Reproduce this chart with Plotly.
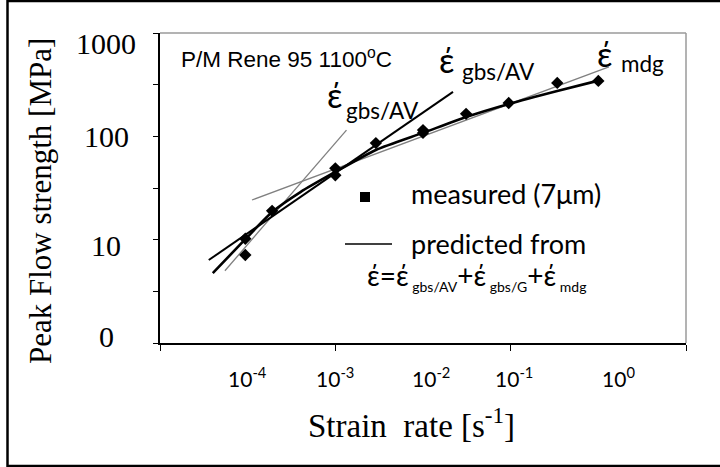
import plotly.graph_objects as go
import numpy as np

# Measured peak flow stress (MPa) against strain rate (1/s)
measured_rate = [9.4e-5, 9.4e-5, 1.9e-4, 1.0e-3, 1.0e-3, 2.9e-3, 1.0e-2, 1.0e-2, 3.1e-2, 9.5e-2, 0.34, 1.0]
measured_stress = [10.2, 7.1, 19, 49, 42, 86, 115, 108, 165, 210, 329, 344]

# Predicted curve (sum of the three mechanisms)
predicted_rate = [4.0e-5, 9.4e-5, 1.9e-4, 4.0e-4, 1.0e-3, 2.9e-3, 1.0e-2, 3.1e-2, 9.5e-2, 0.34, 1.0]
predicted_stress = [4.75, 10.1, 18.5, 28.9, 45.2, 73.8, 108, 154, 206, 275, 346]

# Individual mechanism asymptotes
gbs_av_rate = [3.6e-5, 2.2e-2]
gbs_av_stress = [6.35, 269]
gbs_av_lin_rate = [5.5e-5, 1.34e-3]
gbs_av_lin_stress = [5.0, 115]
mdg_rate = [1.12e-4, 1.32]
mdg_stress = [24.2, 470]

# Axis labelling
x_tick_values = [1e-4, 1e-3, 1e-2, 1e-1, 1e0]
x_tick_labels = ["10<sup>-4</sup>", "10<sup>-3</sup>", "10<sup>-2</sup>", "10<sup>-1</sup>", "10<sup>0</sup>"]
y_tick_values = [1000, 100, 10, 1]
y_tick_labels = ["1000", "100", "10", "0"]

W, H = 720, 467
L, R, T, B = 160, 686, 33, 343


def px(x):
    return (x - L) / (R - L)


def py(y):
    return (B - y) / (B - T)


SERIF = "Liberation Serif"
SANS = "Lato"
ARIAL = "Liberation Sans"

fig = go.Figure()

fig.add_trace(go.Scatter(x=gbs_av_lin_rate, y=gbs_av_lin_stress, mode="lines",
                         line=dict(color="#808080", width=1.3), showlegend=False))
fig.add_trace(go.Scatter(x=mdg_rate, y=mdg_stress, mode="lines",
                         line=dict(color="#808080", width=1.3), showlegend=False))
fig.add_trace(go.Scatter(x=gbs_av_rate, y=gbs_av_stress, mode="lines",
                         line=dict(color="black", width=2), showlegend=False))
fig.add_trace(go.Scatter(x=predicted_rate, y=predicted_stress, mode="lines",
                         line=dict(color="black", width=2.6, shape="spline", smoothing=0.6),
                         showlegend=False))
fig.add_trace(go.Scatter(x=measured_rate, y=measured_stress, mode="markers",
                         marker=dict(symbol="diamond", size=9.5, color="black"),
                         showlegend=False))

fig.update_xaxes(type="log", range=[-5, 1], showgrid=False, zeroline=False,
                 showline=True, linecolor="black", linewidth=1.5,
                 ticks="outside", ticklen=6, tickcolor="black", tickwidth=1.3,
                 tickvals=[1e-5, 1e-3, 1e-1, 1e1], showticklabels=False)
fig.update_yaxes(type="log", range=[0, 3], showgrid=False, zeroline=False,
                 showline=True, linecolor="black", linewidth=1.5,
                 ticks="outside", ticklen=5, tickcolor="black", tickwidth=1.3,
                 tickvals=[1, 3.1623, 10, 31.623, 100, 316.23, 1000], showticklabels=False)


def label(x, y, text, size, family=SANS, xanchor="center", **kw):
    return dict(x=px(x), y=py(y), xref="paper", yref="paper", text=text,
                showarrow=False, xanchor=xanchor, yanchor="middle",
                font=dict(family=family, size=size, color="black"), **kw)


ann = []
# x tick labels
x_shift = [0, 0, 8, 3, 20]
for v, t, s in zip(x_tick_values, x_tick_labels, x_shift):
    ann.append(dict(x=np.log10(v), xref="x", y=py(377), yref="paper", text=t,
                    showarrow=False, xanchor="center", yanchor="middle", xshift=s,
                    font=dict(family=SANS, size=21, color="black")))
# y tick labels
y_shift = [-10, 0, -6, 7]
for v, t, s in zip(y_tick_values, y_tick_labels, y_shift):
    ann.append(dict(x=px(106), xref="paper", y=np.log10(v), yref="y", text=t,
                    showarrow=False, xanchor="center", yanchor="middle", yshift=s,
                    font=dict(family=SERIF, size=30, color="black")))
# axis titles
ann.append(label(411, 423, "Strain  rate [s<sup>-1</sup>]", 33, family=SERIF))
ann.append(label(40, 201, "Peak Flow strength [MPa]", 31, family=SERIF, textangle=-90))
# material / temperature
ann.append(label(179, 58, "P/M Rene 95 1100<sup>o</sup>C", 22.5, family=ARIAL, xanchor="left"))
# mechanism labels
for (ex, ey, sx, sy, sub) in [(334, 95, 382, 110, "gbs/AV"),
                              (446, 60, 498, 71, "gbs/AV"),
                              (604, 53, 642, 64, "mdg")]:
    ann.append(label(ex, ey, "έ", 34))
    ann.append(label(sx, sy, sub, 22.5))
# legend texts
ann.append(label(409, 194, "measured (7μm)", 27, xanchor="left"))
ann.append(label(409, 243, "predicted from", 27, xanchor="left"))
small = "<span style='font-size:14px'>"
ann.append(label(365, 276,
                 "έ=έ<sub>" + small + " gbs/AV</span></sub>+έ<sub>" + small +
                 " gbs/G</span></sub>+έ<sub>" + small + " mdg</span></sub>",
                 28, xanchor="left"))

shapes = [
    # plot frame (top and right)
    dict(type="line", xref="paper", yref="paper", x0=0, x1=1, y0=1, y1=1,
         line=dict(color="#9a9a9a", width=1.5)),
    dict(type="line", xref="paper", yref="paper", x0=1, x1=1, y0=0, y1=1,
         line=dict(color="#9a9a9a", width=1.5)),
    # legend symbols
    dict(type="rect", xref="paper", yref="paper", x0=px(360), x1=px(370),
         y0=py(202), y1=py(192), fillcolor="black", line=dict(width=0)),
    dict(type="line", xref="paper", yref="paper", x0=px(345), x1=px(392),
         y0=py(244), y1=py(244), line=dict(color="black", width=1.5)),
    # outer border
    dict(type="line", xref="paper", yref="paper", x0=px(7.5), x1=px(720),
         y0=py(1), y1=py(1), line=dict(color="black", width=2.5)),
    dict(type="line", xref="paper", yref="paper", x0=px(7.5), x1=px(7.5),
         y0=py(0), y1=py(467), line=dict(color="black", width=2.5)),
    dict(type="line", xref="paper", yref="paper", x0=px(7.5), x1=px(720),
         y0=py(466), y1=py(466), line=dict(color="black", width=2.5)),
]

fig.update_layout(width=W, height=H, margin=dict(l=L, r=W - R, t=T, b=H - B),
                  paper_bgcolor="white", plot_bgcolor="white",
                  annotations=ann, shapes=shapes, showlegend=False)

fig.write_html("out.html")
